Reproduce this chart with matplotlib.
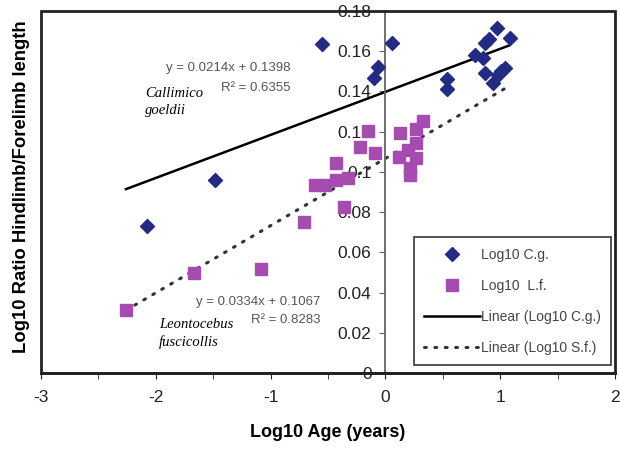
import matplotlib
matplotlib.use("Agg")
import matplotlib.pyplot as plt
from matplotlib.patches import Rectangle
import numpy as np

plt.rcParams['font.family'] = ['Liberation Sans', 'DejaVu Sans']
plt.rcParams['axes.unicode_minus'] = False

# Callimico goeldii (log10 age, log10 ratio)
cg_x = [-2.08, -1.48, -0.555, 0.058, -0.063, -0.10, 0.54, 0.54,
        0.97, 0.87, 0.90, 1.086, 0.78, 0.85, 0.87, 0.94, 0.98, 1.04, 1.01]
cg_y = [0.0732, 0.0960, 0.1634, 0.164, 0.1523, 0.1468, 0.1462, 0.141,
        0.1714, 0.164, 0.166, 0.1667, 0.158, 0.1566, 0.149, 0.1444, 0.148, 0.1515, 0.150]

# Leontocebus fuscicollis
lf_x = [-2.26, -1.67, -1.08, -0.71, -0.36, -0.61, -0.53, -0.43, -0.33, -0.43,
        -0.22, -0.09, -0.15, 0.116, 0.125, 0.197, 0.27, 0.27, 0.218, 0.218, 0.27, 0.33]
lf_y = [0.0313, 0.0496, 0.052, 0.0749, 0.0827, 0.0935, 0.0935, 0.096, 0.0968, 0.1046,
        0.1122, 0.1095, 0.1203, 0.1076, 0.1192, 0.1109, 0.1142, 0.1068, 0.1018, 0.0985, 0.1212, 0.1255]

# trendlines as reported on the chart
cg_fit = [0.0214, 0.1398]
lf_fit = [0.0334, 0.1067]
line_x = [-2.26, 1.08]

fig = plt.figure(figsize=(6.2, 4.49), dpi=100)
ax = fig.add_axes([0.066, 0.169, 0.926, 0.8065])

ax.plot(cg_x, cg_y, 'D', color='#232b83', markersize=7, label='Log10 C.g.', zorder=3)
ax.plot(lf_x, lf_y, 's', color='#a64bb0', markersize=9, label='Log10  L.f.', zorder=3)

lx = np.array(line_x)
ax.plot(lx, cg_fit[0] * lx + cg_fit[1], '-', color='black', lw=1.8,
        label='Linear (Log10 C.g.)', zorder=2)
ax.plot(lx, lf_fit[0] * lx + lf_fit[1], color='#333333', lw=2.2,
        linestyle=(0, (0.6, 2.8)), dash_capstyle='round',
        label='Linear (Log10 S.f.)', zorder=2)

ax.set_xlim(-3, 2)
ax.set_ylim(0, 0.18)
ax.set_xticks([-3, -2, -1, 0, 1, 2])
ax.set_xticks(np.arange(-2.5, 2, 1.0), minor=True)
ax.set_yticks(np.arange(0, 0.181, 0.02))
ax.set_yticklabels(['0', '0.02', '0.04', '0.06', '0.08', '0.1', '0.12', '0.14', '0.16', '0.18'])

for s in ['top', 'right']:
    ax.spines[s].set_visible(False)
ax.spines['left'].set_position(('data', 0))
ax.spines['left'].set_color('#666666')
ax.spines['left'].set_linewidth(1.3)
ax.spines['bottom'].set_linewidth(2)
ax.spines['bottom'].set_color('#222222')
ax.add_patch(Rectangle((0, 0), 1, 1, transform=ax.transAxes, fill=False,
                       edgecolor='#222222', lw=2, clip_on=False, zorder=5))

ax.tick_params(axis='both', which='both', direction='out', length=4,
               labelsize=12.5, colors='#222222')
ax.tick_params(axis='x', pad=8)
ax.tick_params(axis='y', pad=6, color='#666666')

ax.set_xlabel('Log10 Age (years)', fontsize=13, fontweight='bold', labelpad=14)
fig.text(0.035, 0.585, 'Log10 Ratio Hindlimb/Forelimb length', rotation=90,
         fontsize=13.3, fontweight='bold', ha='center', va='center')

ax.text(-0.83, 0.1517, 'y = 0.0214x + 0.1398', fontsize=9.5, color='#555555',
        ha='right', va='center')
ax.text(-0.83, 0.1417, 'R² = 0.6355', fontsize=9.5, color='#555555',
        ha='right', va='center')
ax.text(-2.09, 0.135, 'Callimico\ngoeldii', fontsize=10.5, style='italic',
        family=['Liberation Serif', 'DejaVu Serif'], ha='left', va='center', linespacing=1.4)

ax.text(-0.565, 0.0354, 'y = 0.0334x + 0.1067', fontsize=9.5, color='#555555',
        ha='right', va='center')
ax.text(-0.565, 0.0264, 'R² = 0.8283', fontsize=9.5, color='#555555',
        ha='right', va='center')
ax.text(-1.97, 0.0195, 'Leontocebus\nfuscicollis', fontsize=10.5, style='italic',
        family=['Liberation Serif', 'DejaVu Serif'], ha='left', va='center', linespacing=1.4)

leg = ax.legend(loc='lower right', bbox_to_anchor=(0.993, 0.022), borderaxespad=0,
                fontsize=10, handlelength=4.0, labelspacing=1.22, fancybox=False,
                edgecolor='#444444', framealpha=1, borderpad=0.75, handletextpad=0.05)
leg.get_frame().set_linewidth(1.3)
for t in leg.get_texts():
    t.set_color('#444444')
leg.set_zorder(6)

fig.savefig('out.png', dpi=100)
